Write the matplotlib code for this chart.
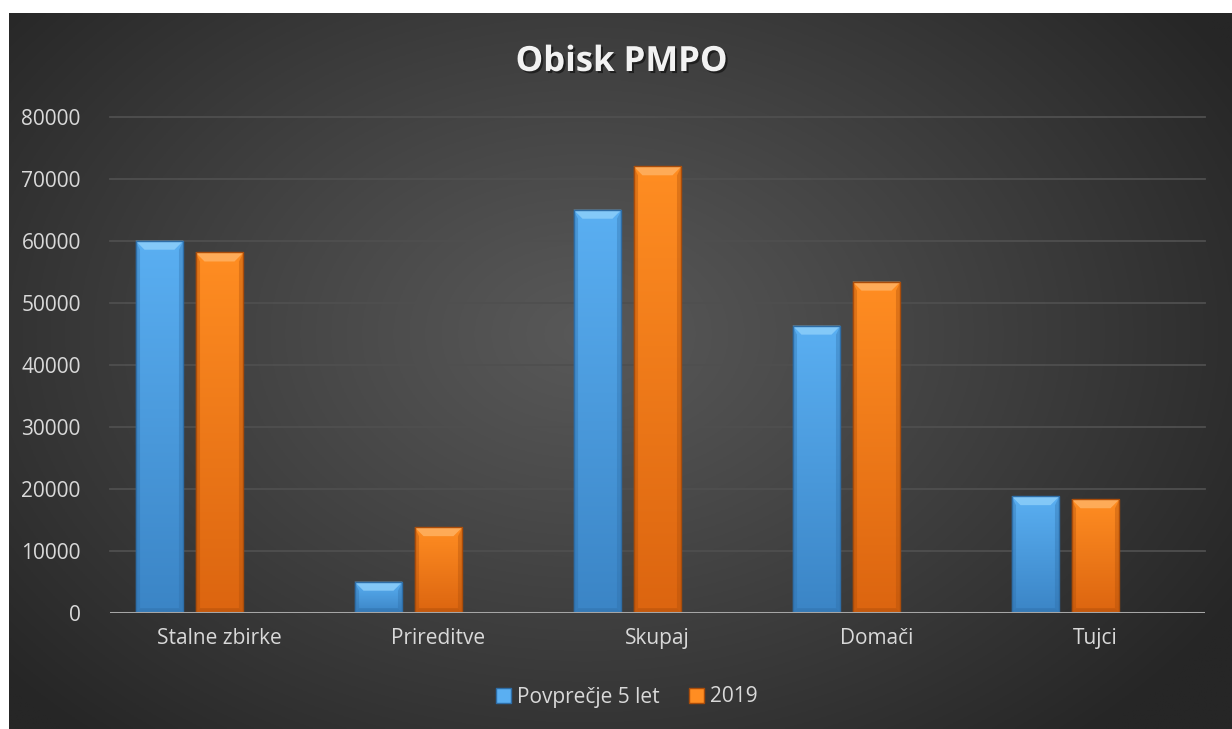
import numpy as np
import matplotlib
matplotlib.use("Agg")
import matplotlib.pyplot as plt
from matplotlib.patches import Polygon, Rectangle, Patch
import matplotlib.patheffects as pe

categories = ["Stalne zbirke", "Prireditve", "Skupaj", "Domači", "Tujci"]
series_names = ["Povprečje 5 let", "2019"]
avg5 = [60000, 5000, 65000, 46300, 18800]
y2019 = [58100, 13800, 72000, 53400, 18300]
yticks = [0, 10000, 20000, 30000, 40000, 50000, 60000, 70000, 80000]

plt.rcParams['font.family'] = ['Open Sans', 'DejaVu Sans']

W, H = 1232, 729
fig = plt.figure(figsize=(W / 100, H / 100), dpi=100)
fig.patch.set_facecolor("white")

# background with radial gradient
bg = fig.add_axes([9 / W, 0, 1 - 9 / W, (H - 13) / H])
bg.set_axis_off()
ny, nx = 300, 500
yy, xx = np.mgrid[0:ny, 0:nx]
cx, cy = 0.47 * nx, 0.55 * ny
d = np.sqrt(((xx - cx) / (0.62 * nx)) ** 2 + ((yy - cy) / (0.75 * ny)) ** 2)
d = np.clip(d, 0, 1)
c_in, c_out = 0x58 / 255, 0x26 / 255
g = c_in + (c_out - c_in) * d ** 1.1
img = np.dstack([g, g, g])
bg.imshow(img, aspect="auto", extent=(0, 1, 0, 1), origin="lower", zorder=0)
bg.set_xlim(0, 1)
bg.set_ylim(0, 1)

# main axes
ax_l, ax_r = 110 / W, 1205 / W
ax_b, ax_t = (H - 612.7) / H, (H - 116.7) / H
ax = fig.add_axes([ax_l, ax_b, ax_r - ax_l, ax_t - ax_b])
ax.patch.set_alpha(0)
ax.set_xlim(-0.5, len(categories) - 0.5)
ax.set_ylim(0, 80000)
for s in ax.spines.values():
    s.set_visible(False)
ax.set_yticks(yticks)
ax.set_yticklabels([str(v) for v in yticks])
ax.set_xticks(range(len(categories)))
ax.set_xticklabels(categories)
ax.tick_params(axis="both", length=0, colors="#d9d9d9", labelsize=15)
ax.tick_params(axis="y", pad=21)
ax.tick_params(axis="x", pad=11)
for v in yticks[1:]:
    ax.axhline(v, color="#4f4f4f", lw=1.3, zorder=1, clip_on=False)
ax.axhline(0, color="#a6a6a6", lw=2.2, zorder=5)

bar_w = 0.219
offsets = [-0.274, 0.0]
colors = [("#5aaff2", "#3b85c6", "#8fd0fa", "#2e6da6"),
          ("#ff8d22", "#dc6510", "#ffb466", "#a94c0a")]
dy = 9 * 80000 / 496
dx = 9 / 219


def draw_bar(x0, h, top_c, bot_c, bevel_c, edge_c):
    x1 = x0 + bar_w
    rect = Rectangle((x0, 0), bar_w, h, facecolor="none", edgecolor="none")
    ax.add_patch(rect)
    grad = np.linspace(0, 1, 64)[:, None]
    tc = np.array(matplotlib.colors.to_rgb(top_c))
    bc = np.array(matplotlib.colors.to_rgb(bot_c))
    arr = bc[None, None, :] * (1 - grad[..., None]) + tc[None, None, :] * grad[..., None]
    arr = np.repeat(arr, 2, axis=1)
    im = ax.imshow(arr, extent=(x0, x1, 0, h), origin="lower", aspect="auto",
                   zorder=3, interpolation="bilinear")
    im.set_clip_path(rect)
    # top bevel
    ax.add_patch(Polygon([(x0, h), (x1, h), (x1 - dx, h - dy), (x0 + dx, h - dy)],
                         closed=True, facecolor=bevel_c, edgecolor="none", alpha=0.8, zorder=4))
    # side bevels (darker)
    ax.add_patch(Polygon([(x0, 0), (x0, h), (x0 + dx * 0.5, h - dy), (x0 + dx * 0.5, dy * 0.5)],
                         closed=True, facecolor=edge_c, edgecolor="none", alpha=0.35, zorder=4))
    ax.add_patch(Polygon([(x1, 0), (x1, h), (x1 - dx * 0.5, h - dy), (x1 - dx * 0.5, dy * 0.5)],
                         closed=True, facecolor=edge_c, edgecolor="none", alpha=0.35, zorder=4))
    ax.add_patch(Polygon([(x0, 0), (x1, 0), (x1 - dx * 0.5, dy * 0.5), (x0 + dx * 0.5, dy * 0.5)],
                         closed=True, facecolor=edge_c, edgecolor="none", alpha=0.45, zorder=4))
    ax.add_patch(Rectangle((x0, 0), bar_w, h, facecolor="none", edgecolor=edge_c,
                           lw=1.0, zorder=4.5))


for si, vals in enumerate([avg5, y2019]):
    for ci, v in enumerate(vals):
        x0 = ci + offsets[si] - bar_w / 2
        draw_bar(x0, v, *colors[si])

# title
fig.text((500 + 743) / 2 / W, 1 - 62 / H, "Obisk PMPO", ha="center", va="center",
         fontsize=25, fontweight="bold", color="#f2f2f2",
         path_effects=[pe.withSimplePatchShadow(offset=(1.5, -1.5), shadow_rgbFace="black", alpha=0.5)])

# legend
handles = [Patch(facecolor=colors[i][0], edgecolor=colors[i][3], label=series_names[i]) for i in range(2)]
leg = fig.legend(handles=handles, loc="center", bbox_to_anchor=(627 / W, 1 - 697 / H),
                 ncol=2, frameon=False, fontsize=15, handlelength=0.7, handleheight=0.7,
                 handletextpad=0.3, columnspacing=1.4)
for t in leg.get_texts():
    t.set_color("#d9d9d9")

fig.savefig("out.png", dpi=100, facecolor="white")
